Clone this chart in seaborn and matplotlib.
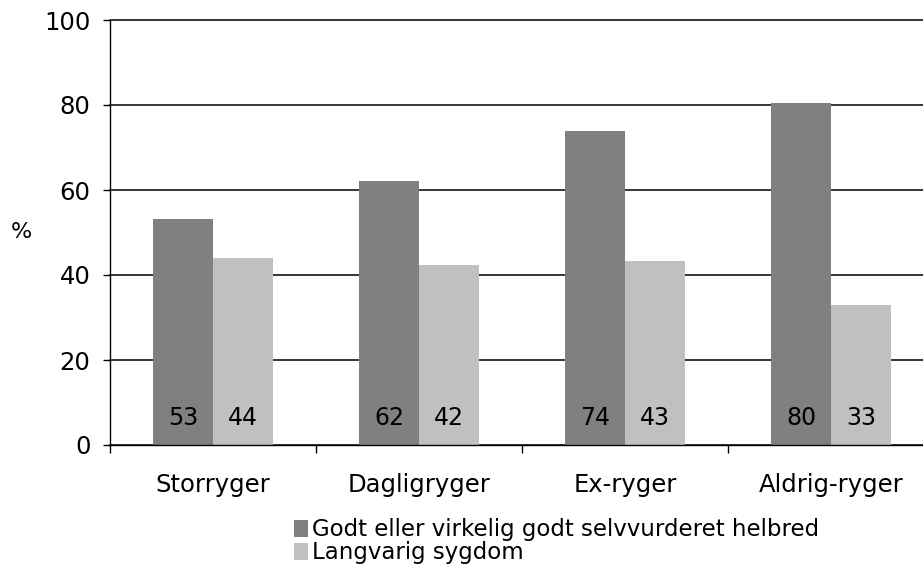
import pandas as pd
import matplotlib
matplotlib.use("Agg")
import matplotlib.pyplot as plt
import seaborn as sns

categories = ["Storryger", "Dagligryger", "Ex-ryger", "Aldrig-ryger"]
series_names = ["Godt eller virkelig godt selvvurderet helbred", "Langvarig sygdom"]
helbred = [53.2, 62.1, 73.9, 80.4]
sygdom = [44.1, 42.3, 43.4, 32.9]
yticks = [0, 20, 40, 60, 80, 100]

def main():
    df = pd.DataFrame({
        "gruppe": categories * 2,
        "serie": [series_names[0]] * 4 + [series_names[1]] * 4,
        "pct": helbred + sygdom,
    })

    sns.set_theme(style="white")
    plt.rcParams["font.family"] = ["DejaVu Sans"]
    plt.rcParams["text.color"] = "black"
    plt.rcParams["xtick.color"] = "black"
    plt.rcParams["ytick.color"] = "black"
    plt.rcParams["axes.labelcolor"] = "black"

    fig = plt.figure(figsize=(9.23, 5.87), dpi=100)
    ax = fig.add_axes([110 / 923, 142 / 587, 824 / 923, 425 / 587])

    sns.barplot(data=df, x="gruppe", y="pct", hue="serie", order=categories,
                hue_order=series_names, palette=["#808080", "#C0C0C0"],
                width=0.58, gap=0, saturation=1, errorbar=None, linewidth=0, ax=ax)

    ax.set_xlim(-0.5, len(categories) - 0.5)
    ax.set_ylim(0, 100)
    ax.set_yticks(yticks)
    ax.set_axisbelow(True)
    ax.yaxis.grid(True, color="black", linewidth=1.1)
    ax.xaxis.grid(False)
    for gl in ax.get_ygridlines():
        gl.set_clip_on(False)

    for name in ["top", "right"]:
        ax.spines[name].set_visible(False)
    for name in ["left", "bottom"]:
        ax.spines[name].set_color("black")
        ax.spines[name].set_linewidth(1.0)

    # etiketter nederst i søjlerne
    for cont in ax.containers:
        for p in cont:
            ax.text(p.get_x() + p.get_width() / 2, 6.4, f"{p.get_height():.0f}",
                    ha="center", va="center", fontsize=17, color="black")

    ax.set_xticks(range(len(categories)))
    ax.set_xticklabels(categories)
    ax.set_xticks([i - 0.5 for i in range(len(categories) + 1)], minor=True)
    ax.tick_params(axis="x", which="major", length=0, pad=20, labelsize=17.5)
    ax.tick_params(axis="x", which="minor", length=6, width=1, color="black", direction="out", bottom=True)
    ax.tick_params(axis="y", length=5, width=1, color="black", direction="out", left=True, pad=9, labelsize=17.5)

    ax.set_xlabel("")
    ax.set_ylabel("%", rotation=0, fontsize=16, va="center", ha="center", labelpad=0)
    ax.yaxis.set_label_coords(-0.107, 0.5)

    handles, labels = ax.get_legend_handles_labels()
    ax.legend_.remove()
    fig.legend(handles, labels, loc="upper left", bbox_to_anchor=(283 / 923, 1 - 507 / 587),
               frameon=False, fontsize=16.5, handlelength=0.6, handleheight=0.8,
               handletextpad=0.15, labelspacing=0.0, borderpad=0)

    fig.savefig("out.png", dpi=100)
    plt.close(fig)

if __name__ == "__main__":
    main()
